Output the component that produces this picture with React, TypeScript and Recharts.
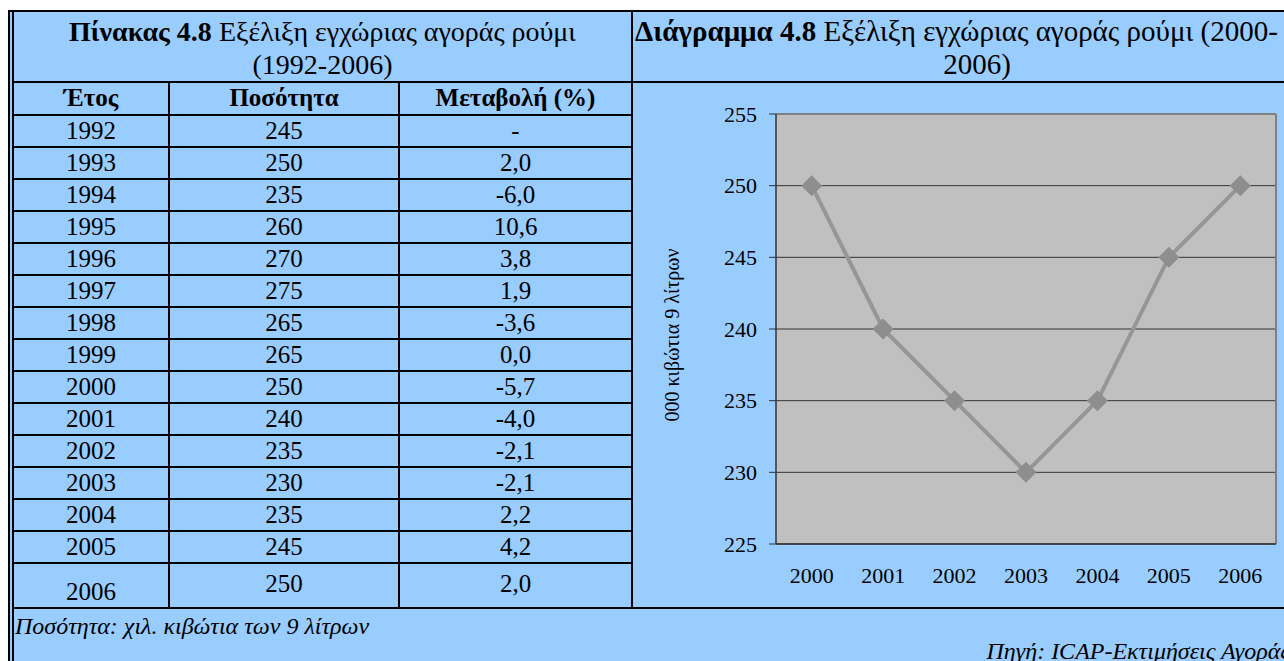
import React from "react";
import { LineChart, Line, XAxis, YAxis, CartesianGrid, ReferenceLine } from "recharts";

// table (1992-2006)
const tableYears = ["1992", "1993", "1994", "1995", "1996", "1997", "1998", "1999", "2000", "2001", "2002", "2003", "2004", "2005", "2006"];
const tableVolume = ["245", "250", "235", "260", "270", "275", "265", "265", "250", "240", "235", "230", "235", "245", "250"];
const tableChange = ["-", "2,0", "-6,0", "10,6", "3,8", "1,9", "-3,6", "0,0", "-5,7", "-4,0", "-2,1", "-2,1", "2,2", "4,2", "2,0"];
const tableHeads = ["Έτος", "Ποσότητα", "Μεταβολή (%)"];

// chart (2000-2006)
const chartYears = ["2000", "2001", "2002", "2003", "2004", "2005", "2006"];
const chartVolume = [250, 240, 235, 230, 235, 245, 250];
const yTicks = [225, 230, 235, 240, 245, 250, 255];

const chartData = chartYears.map((year, i) => ({ idx: i, year, value: chartVolume[i] }));
const centerTicks = chartYears.map((_, i) => i);
const edgeTicks = [...chartYears.map((_, i) => i - 0.5), chartYears.length - 0.5];
const xDomain = [-0.5, chartYears.length - 0.5];

const SERIF = "'Liberation Serif', 'Times New Roman', serif";
const BLUE = "#99CCFF";

const Diamond = (props: any) => {
  const { cx, cy } = props;
  if (cx == null || cy == null) return null;
  const r = 10.5;
  return <path d={`M${cx},${cy - r}L${cx + r},${cy}L${cx},${cy + r}L${cx - r},${cy}Z`} fill="#8E8E8E" />;
};

const AxisTitle = (props: any) => {
  const vb = props.viewBox || {};
  const x = vb.x + 32;
  const y = vb.y + vb.height / 2 + 6;
  return (
    <text x={x} y={y} transform={`rotate(-90, ${x}, ${y})`} textAnchor="middle" dominantBaseline="central"
      fontFamily={SERIF} fontSize={20} fill="#000">
      000 κιβώτια 9 λίτρων
    </text>
  );
};

const cell = (extra: React.CSSProperties = {}): React.CSSProperties => ({
  boxSizing: "border-box",
  borderRight: "2px solid #000",
  borderBottom: "2px solid #000",
  display: "flex",
  alignItems: "center",
  justifyContent: "center",
  ...extra,
});

export default function App() {
  return (
    <div style={{ position: "absolute", left: 0, top: 0, width: 1284, height: 661, overflow: "hidden", background: "#fff", fontFamily: SERIF, color: "#000" }}>
      <div style={{ position: "absolute", left: 8, top: 10, width: 1400, height: 700, boxSizing: "border-box", background: BLUE, borderTop: "2px solid #000", borderLeft: "2px solid #000" }} />
      <div style={{ position: "absolute", left: 12, top: 12, width: 2, height: 700, background: "#000" }} />

      {/* header cells */}
      <div style={{ position: "absolute", left: 14, top: 12, width: 619, height: 71, boxSizing: "border-box", borderRight: "2px solid #000", borderBottom: "2px solid #000", textAlign: "center", fontSize: 28, lineHeight: "33px", paddingTop: 3, whiteSpace: "nowrap" }}>
        <b>Πίνακας 4.8</b> Εξέλιξη εγχώριας αγοράς ρούμι<br />(1992-2006)
      </div>
      <div style={{ position: "absolute", left: 633, top: 12, width: 700, height: 71, boxSizing: "border-box", borderBottom: "2px solid #000", fontFamily: SERIF, fontSize: 29, lineHeight: "33px", whiteSpace: "nowrap" }}>
        <div style={{ position: "absolute", left: 2, top: 3 }}>
          <b>Διάγραμμα 4.8</b> Εξέλιξη εγχώριας αγοράς ρούμι (2000-
        </div>
        <div style={{ position: "absolute", left: 244, top: 36, width: 200, textAlign: "center" }}>2006)</div>
      </div>

      {/* table */}
      <div style={{ position: "absolute", left: 14, top: 83, width: 619, display: "grid", gridTemplateColumns: "156px 230px 233px", gridTemplateRows: "33px repeat(14, 32px) 45px", fontSize: 25 }}>
        {tableHeads.map((h) => (
          <div key={h} style={cell({ fontWeight: "bold", paddingBottom: 2 })}>{h}</div>
        ))}
        {tableYears.map((y, i) => {
          const last = i === tableYears.length - 1;
          return (
            <React.Fragment key={y}>
              <div style={cell(last ? { paddingTop: 12 } : {})}>{y}</div>
              <div style={cell(last ? { paddingBottom: 4 } : {})}>{tableVolume[i]}</div>
              <div style={cell(last ? { paddingBottom: 4 } : {})}>{tableChange[i]}</div>
            </React.Fragment>
          );
        })}
      </div>

      {/* chart cell */}
      <div style={{ position: "absolute", left: 633, top: 83, width: 700, height: 526, boxSizing: "border-box", borderBottom: "2px solid #000" }} />
      <div style={{ position: "absolute", left: 640, top: 82 }}>
        <LineChart width={660} height={526} data={chartData} margin={{ top: 32, right: 24, bottom: 16, left: 0 }}>
          <CartesianGrid xAxisId="edge" vertical={false} stroke="#333" fill="#C0C0C0" fillOpacity={1} />
          <XAxis xAxisId="edge" dataKey="idx" type="number" domain={xDomain} ticks={edgeTicks} interval={0}
            allowDataOverflow tick={false} tickSize={6} height={8}
            axisLine={{ stroke: "#333", strokeWidth: 1.5 }} tickLine={{ stroke: "#333" }} />
          <XAxis xAxisId="label" dataKey="idx" type="number" domain={xDomain} ticks={centerTicks} interval={0}
            allowDataOverflow axisLine={false} tickLine={false} tickSize={0} tickMargin={15} height={40}
            tickFormatter={(v) => chartYears[v]}
            tick={{ fill: "#000", fontSize: 22, fontFamily: SERIF }} />
          <YAxis type="number" domain={[225, 255]} ticks={yTicks} interval={0} width={136}
            tickSize={7} tickMargin={12}
            axisLine={{ stroke: "#333", strokeWidth: 1.5 }} tickLine={{ stroke: "#333" }}
            tick={{ fill: "#000", fontSize: 22, fontFamily: SERIF }}
            label={<AxisTitle />} />
          <ReferenceLine xAxisId="edge" y={255} stroke="#808080" strokeWidth={2} />
          <ReferenceLine xAxisId="edge" x={chartYears.length - 0.5} stroke="#808080" strokeWidth={2} />
          <Line xAxisId="edge" dataKey="value" stroke="#969696" strokeWidth={4} dot={<Diamond />}
            activeDot={false} isAnimationActive={false} />
        </LineChart>
      </div>

      {/* notes */}
      <div style={{ position: "absolute", left: 15, top: 612, fontSize: 24, lineHeight: "28px", fontStyle: "italic", whiteSpace: "nowrap" }}>
        Ποσότητα: χιλ. κιβώτια των 9 λίτρων
      </div>
      <div style={{ position: "absolute", left: 633, top: 637, width: 657, fontSize: 24, lineHeight: "28px", fontStyle: "italic", textAlign: "right", whiteSpace: "nowrap" }}>
        Πηγή: ICAP-Εκτιμήσεις Αγοράς
      </div>
    </div>
  );
}
